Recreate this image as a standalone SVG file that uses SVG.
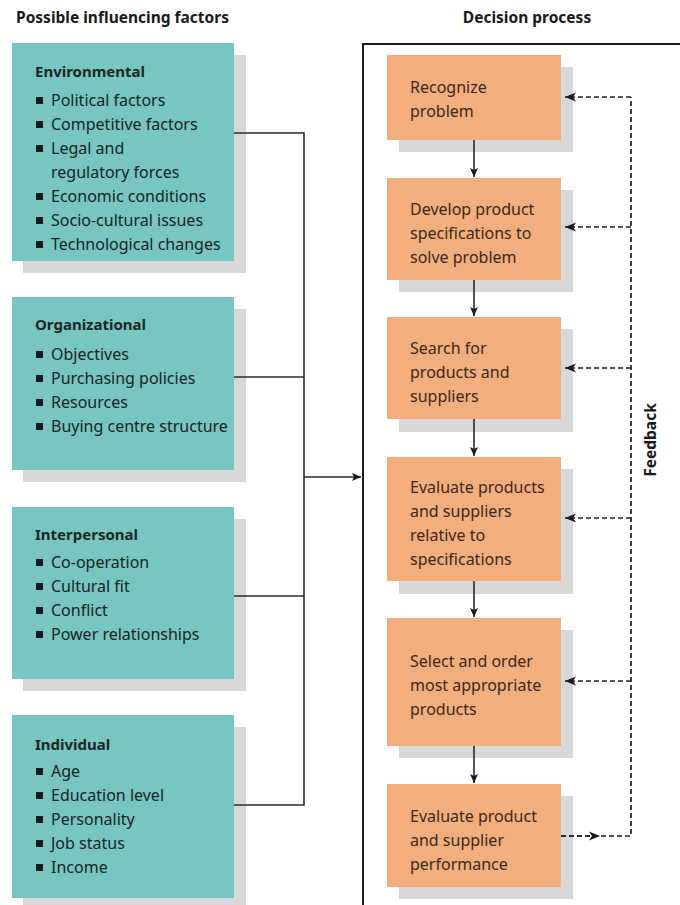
<svg xmlns="http://www.w3.org/2000/svg" width="680" height="905" viewBox="0 0 680 905">
  <style>
    .head { font-family: "Noto Sans", "Liberation Sans", sans-serif; font-weight: bold; font-size: 15.5px; fill: #1a1a1a; }
    .ttl { font-family: "Noto Sans", "Liberation Sans", sans-serif; font-weight: bold; font-size: 15px; fill: #1a2626; }
    .item { font-family: "Noto Sans", "Liberation Sans", sans-serif; font-size: 16px; fill: #162424; }
    .step { font-family: "Noto Sans", "Liberation Sans", sans-serif; font-size: 16px; fill: #3a281a; }
    .teal { fill: #78c6c1; }
    .orange { fill: #f2ae7d; }
    .shadow { fill: #d8d8d8; }
    .bullet { fill: #1a1a1a; }
    .wire { fill: none; stroke: #2a2a2a; stroke-width: 1.6; }
    .dash { fill: none; stroke: #222222; stroke-width: 1.7; stroke-dasharray: 5 3; }
  </style>
  <defs>
    <marker id="solid" markerWidth="10" markerHeight="8" refX="9" refY="4" orient="auto" markerUnits="userSpaceOnUse">
      <path d="M0,0 L9,4 L0,8 L2,4 Z" fill="#1a1a1a"/>
    </marker>
    <marker id="notch" markerWidth="12" markerHeight="10" refX="11" refY="5" orient="auto" markerUnits="userSpaceOnUse">
      <path d="M0,0.5 L11,5 L0,9.5 L3,5 Z" fill="#1a1a1a"/>
    </marker>
  </defs>

  <rect width="680" height="905" fill="#ffffff"/>

  <!-- column headings -->
  <text class="head" x="16" y="23">Possible influencing factors</text>
  <text class="head" x="527" y="23" text-anchor="middle">Decision process</text>

  <!-- frame around the decision process -->
  <path d="M363,905 L363,44 L682,44" fill="none" stroke="#1a1a1a" stroke-width="2"/>

  <!-- influencing factor boxes -->
  <g id="environmental">
    <rect class="shadow" x="23" y="55" width="223" height="218"/>
    <rect class="teal" x="12" y="43" width="222" height="218"/>
    <text class="ttl" x="35" y="77">Environmental</text>
    <rect class="bullet" x="36" y="97" width="7" height="7"/>
    <text class="item" x="51" y="106">Political factors</text>
    <rect class="bullet" x="36" y="121" width="7" height="7"/>
    <text class="item" x="51" y="130">Competitive factors</text>
    <rect class="bullet" x="36" y="145" width="7" height="7"/>
    <text class="item" x="51" y="154">Legal and</text>
    <text class="item" x="51" y="178">regulatory forces</text>
    <rect class="bullet" x="36" y="193" width="7" height="7"/>
    <text class="item" x="51" y="202">Economic conditions</text>
    <rect class="bullet" x="36" y="217" width="7" height="7"/>
    <text class="item" x="51" y="226">Socio-cultural issues</text>
    <rect class="bullet" x="36" y="241" width="7" height="7"/>
    <text class="item" x="51" y="250">Technological changes</text>
  </g>

  <g id="organizational">
    <rect class="shadow" x="23" y="309" width="223" height="173"/>
    <rect class="teal" x="12" y="297" width="222" height="173"/>
    <text class="ttl" x="35" y="330">Organizational</text>
    <rect class="bullet" x="36" y="351" width="7" height="7"/>
    <text class="item" x="51" y="360">Objectives</text>
    <rect class="bullet" x="36" y="375" width="7" height="7"/>
    <text class="item" x="51" y="384">Purchasing policies</text>
    <rect class="bullet" x="36" y="399" width="7" height="7"/>
    <text class="item" x="51" y="408">Resources</text>
    <rect class="bullet" x="36" y="423" width="7" height="7"/>
    <text class="item" x="51" y="432">Buying centre structure</text>
  </g>

  <g id="interpersonal">
    <rect class="shadow" x="23" y="519" width="223" height="172"/>
    <rect class="teal" x="12" y="507" width="222" height="172"/>
    <text class="ttl" x="35" y="540">Interpersonal</text>
    <rect class="bullet" x="36" y="559" width="7" height="7"/>
    <text class="item" x="51" y="568">Co-operation</text>
    <rect class="bullet" x="36" y="583" width="7" height="7"/>
    <text class="item" x="51" y="592">Cultural fit</text>
    <rect class="bullet" x="36" y="607" width="7" height="7"/>
    <text class="item" x="51" y="616">Conflict</text>
    <rect class="bullet" x="36" y="631" width="7" height="7"/>
    <text class="item" x="51" y="640">Power relationships</text>
  </g>

  <g id="individual">
    <rect class="shadow" x="23" y="727" width="223" height="183"/>
    <rect class="teal" x="12" y="715" width="222" height="183"/>
    <text class="ttl" x="35" y="750">Individual</text>
    <rect class="bullet" x="36" y="768" width="7" height="7"/>
    <text class="item" x="51" y="777">Age</text>
    <rect class="bullet" x="36" y="792" width="7" height="7"/>
    <text class="item" x="51" y="801">Education level</text>
    <rect class="bullet" x="36" y="816" width="7" height="7"/>
    <text class="item" x="51" y="825">Personality</text>
    <rect class="bullet" x="36" y="840" width="7" height="7"/>
    <text class="item" x="51" y="849">Job status</text>
    <rect class="bullet" x="36" y="864" width="7" height="7"/>
    <text class="item" x="51" y="873">Income</text>
  </g>

  <!-- decision process steps -->
  <g id="recognize">
    <rect class="shadow" x="399" y="67" width="174" height="85"/>
    <rect class="orange" x="387" y="55" width="174" height="85"/>
    <text class="step" x="410" y="93">Recognize</text>
    <text class="step" x="410" y="117">problem</text>
  </g>

  <g id="specify">
    <rect class="shadow" x="399" y="190" width="174" height="102"/>
    <rect class="orange" x="387" y="178" width="174" height="102"/>
    <text class="step" x="410" y="215">Develop product</text>
    <text class="step" x="410" y="239">specifications to</text>
    <text class="step" x="410" y="263">solve problem</text>
  </g>

  <g id="search">
    <rect class="shadow" x="399" y="329" width="174" height="103"/>
    <rect class="orange" x="387" y="317" width="174" height="102"/>
    <text class="step" x="410" y="354">Search for</text>
    <text class="step" x="410" y="378">products and</text>
    <text class="step" x="410" y="402">suppliers</text>
  </g>

  <g id="evaluate-suppliers">
    <rect class="shadow" x="399" y="469" width="174" height="125"/>
    <rect class="orange" x="387" y="457" width="174" height="124"/>
    <text class="step" x="410" y="493">Evaluate products</text>
    <text class="step" x="410" y="517">and suppliers</text>
    <text class="step" x="410" y="541">relative to</text>
    <text class="step" x="410" y="565">specifications</text>
  </g>

  <g id="select">
    <rect class="shadow" x="399" y="630" width="174" height="128"/>
    <rect class="orange" x="387" y="618" width="174" height="128"/>
    <text class="step" x="410" y="667">Select and order</text>
    <text class="step" x="410" y="691">most appropriate</text>
    <text class="step" x="410" y="715">products</text>
  </g>

  <g id="performance">
    <rect class="shadow" x="399" y="796" width="174" height="103"/>
    <rect class="orange" x="387" y="784" width="174" height="103"/>
    <text class="step" x="410" y="822">Evaluate product</text>
    <text class="step" x="410" y="846">and supplier</text>
    <text class="step" x="410" y="870">performance</text>
  </g>

  <!-- connectors -->
  <g id="connectors">
    <path class="wire" d="M234,133 H304 V805 H234"/>
    <path class="wire" d="M234,377 H304"/>
    <path class="wire" d="M234,596 H304"/>
    <path class="wire" d="M304,477 H361" marker-end="url(#solid)"/>

    <path class="wire" d="M474,140 V177" marker-end="url(#solid)"/>
    <path class="wire" d="M474,280 V316" marker-end="url(#solid)"/>
    <path class="wire" d="M474,419 V456" marker-end="url(#solid)"/>
    <path class="wire" d="M474,581 V617" marker-end="url(#solid)"/>
    <path class="wire" d="M474,746 V783" marker-end="url(#solid)"/>

    <!-- feedback loop -->
    <path class="dash" d="M561,836 H631 V97"/>
    <path class="dash" d="M561,836 H600" marker-end="url(#notch)"/>
    <path class="dash" d="M631,97 H565" marker-end="url(#notch)"/>
    <path class="dash" d="M631,227 H565" marker-end="url(#notch)"/>
    <path class="dash" d="M631,368 H565" marker-end="url(#notch)"/>
    <path class="dash" d="M631,518 H565" marker-end="url(#notch)"/>
    <path class="dash" d="M631,681 H565" marker-end="url(#notch)"/>
    <text class="head" transform="translate(656,440) rotate(-90)" text-anchor="middle">Feedback</text>
  </g>
</svg>
